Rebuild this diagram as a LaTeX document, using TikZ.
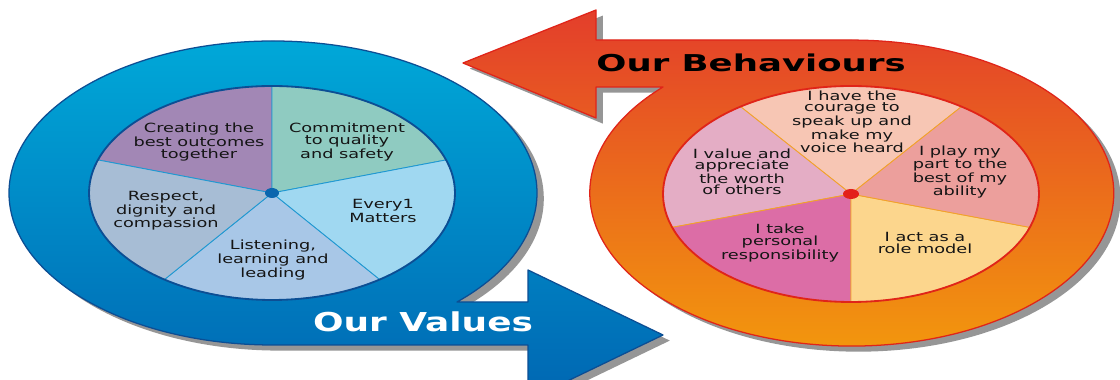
\documentclass[tikz,border=0pt]{standalone}
\usepackage{fontspec}
\setmainfont{DejaVu Sans}
\usetikzlibrary{shadows,positioning}
\definecolor{bluetop}{HTML}{00A8D8}
\definecolor{bluebot}{HTML}{0066B2}
\definecolor{bluedark}{HTML}{0C4E94}
\definecolor{orgtop}{HTML}{E33E2B}
\definecolor{orgmid}{HTML}{EE7A3B}
\definecolor{orgbot}{HTML}{F39A0C}
\definecolor{redline}{HTML}{E02419}
\definecolor{lvPurple}{HTML}{A287B5}
\definecolor{lvTeal}{HTML}{8FCBC1}
\definecolor{lvSky}{HTML}{A0D8F1}
\definecolor{lvBlue}{HTML}{A8C7E7}
\definecolor{lvGrey}{HTML}{A7BDD5}
\definecolor{lvline}{HTML}{1F98D1}
\definecolor{lvdot}{HTML}{0A66AE}
\definecolor{bhPeach}{HTML}{F7C6B4}
\definecolor{bhPink}{HTML}{E4ADC5}
\definecolor{bhMagenta}{HTML}{DC6DA6}
\definecolor{bhYellow}{HTML}{FCD68D}
\definecolor{bhSalmon}{HTML}{EC9F9C}
\definecolor{bhline}{HTML}{F2A22A}
\definecolor{bhdot}{HTML}{E3211B}
\definecolor{txtgray}{HTML}{151515}
\tikzset
{
    ringline/.style = {line width=0.9pt, line join=round},
    castshadow/.style = {drop shadow={shadow xshift=0.17cm, shadow yshift=-0.14cm, opacity=0.55, fill=black!75}},
    pietext/.style = {align=center, inner sep=0pt, xscale=1.4, text=txtgray, font=\fontsize{9}{8.1}\selectfont},
    headline/.style = {inner sep=0pt, anchor=base, font=\bfseries\fontsize{#1}{#1}\selectfont}
}
\begin{document}
\begin{tikzpicture}[x=0.025cm, y=0.025cm]
	\useasboundingbox[fill=white] (0,0) rectangle (1120,380);

	\path [castshadow, draw=bluedark, ringline, top color=bluetop, bottom color=bluebot]
		(457,78) -- (528,78) -- (528,110) -- (663,45) -- (528,-20) -- (528,35) -- (273,35)
		arc[start angle=-90, end angle=-405.8, x radius=264, y radius=152] -- cycle;
	\path [castshadow, draw=redline, ringline, top color=orgtop, middle color=orgmid, bottom color=orgbot]
		(852,340) -- (596,340) -- (596,370) -- (463,317) -- (596,262) -- (596,293) -- (663,293)
		arc[start angle=136.1, end angle=450, x radius=262, y radius=153] -- cycle;

	\coordinate (lc) at (272,187);
	\foreach \a/\c in {90/lvPurple, 18/lvTeal, -54/lvSky, -126/lvBlue, 162/lvGrey}
		\filldraw [fill=\c, draw=lvline, line width=0.6pt] (lc) -- ++({183*cos(\a)},{107*sin(\a)})
			arc[start angle=\a, end angle=\a+72, x radius=183, y radius=107] -- cycle;
	\draw [bluedark, line width=1.3pt] (lc) ellipse[x radius=183, y radius=107];
	\fill [lvdot] (lc) ellipse[x radius=7, y radius=5];

	\coordinate (rc) at (851,186);
	\foreach \a/\c in {54/bhPeach, 126/bhPink, 198/bhMagenta, 270/bhYellow, -18/bhSalmon}
		\filldraw [fill=\c, draw=bhline, line width=0.6pt] (rc) -- ++({188*cos(\a)},{108*sin(\a)})
			arc[start angle=\a, end angle=\a+72, x radius=188, y radius=108] -- cycle;
	\draw [redline, line width=1.3pt] (rc) ellipse[x radius=188, y radius=108];
	\fill [bhdot] (rc) ellipse[x radius=8, y radius=5];

	\node (lvCreate) [pietext] at (199,238) {Creating the\\best outcomes\\together};
	\node (lvCommit) [pietext] at (347,238) {Commitment\\to quality\\and safety};
	\node (lvEvery) [pietext] at (383,169) {Every1\\Matters};
	\node (lvListen) [pietext] at (273,120) {Listening,\\learning and\\leading};
	\node (lvRespect) [pietext] at (166,169) {Respect,\\dignity and\\compassion};

	\node (bhCourage) [pietext] at (852,258) {I have the\\courage to\\speak up and\\make my\\voice heard};
	\node (bhValue) [pietext] at (742,208) {I value and\\appreciate\\the worth\\of others};
	\node (bhPlay) [pietext] at (960,208) {I play my\\part to the\\best of my\\ability};
	\node (bhTake) [pietext] at (780,137) {I take\\personal\\responsibility};
	\node (bhRole) [pietext] at (925,137) {I act as a\\role model};

	\node (behaviours) [headline=16.5, xscale=1.53, text=black] at (751,308) {Our Behaviours};
	\node (values) [headline=18.5, xscale=1.38, text=white] at (423,48) {Our Values};
\end{tikzpicture}
\end{document}
